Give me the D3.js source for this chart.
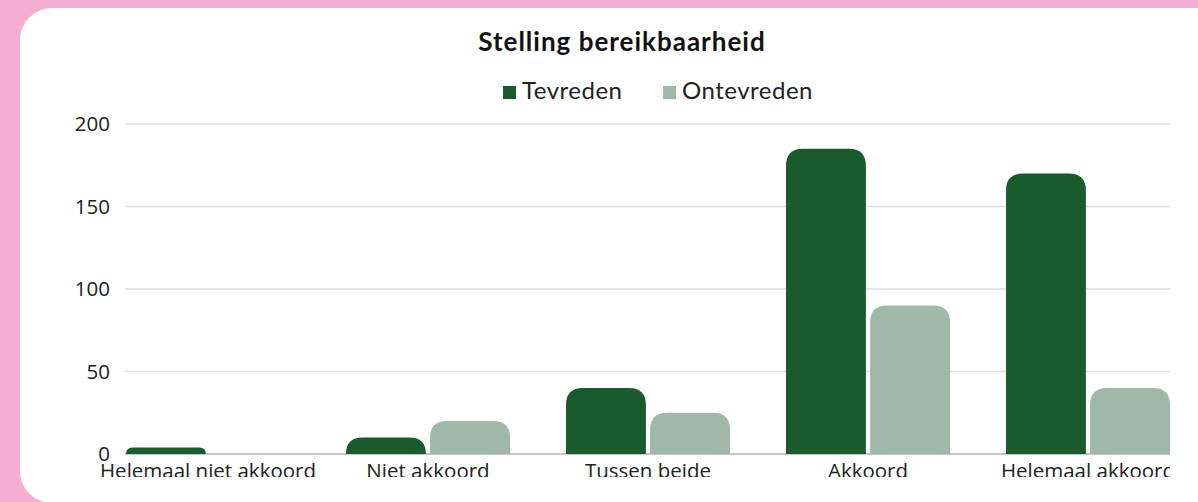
<!DOCTYPE html>
<html>
<head>
<meta charset="utf-8">
<script src="https://cdn.jsdelivr.net/npm/d3@7"></script>
<style>
  html, body { margin: 0; padding: 0; background: #f3aed0; }
  svg { display: block; }
</style>
</head>
<body>
<div id="chart"></div>
<script>
// categories and series values
var categories = ["Helemaal niet akkoord", "Niet akkoord", "Tussen beide", "Akkoord", "Helemaal akkoord"];
var seriesNames = ["Tevreden", "Ontevreden"];
var tevreden = [4, 10, 40, 185, 170];
var ontevreden = [0, 20, 25, 90, 40];
var yTicks = [0, 50, 100, 150, 200];

var color = d3.scaleOrdinal()
    .domain(seriesNames)
    .range(["#195b2d", "#9fb8a7"]);

var W = 1198, H = 502;

var svg = d3.select("#chart")
  .append("svg")
    .attr("width", W)
    .attr("height", H);

// white card on the pink background
svg.append("rect")
    .attr("x", 20).attr("y", 8)
    .attr("width", 1240).attr("height", 495)
    .attr("rx", 32).attr("ry", 32)
    .attr("fill", "#ffffff");

// title
svg.append("text")
    .attr("x", 622).attr("y", 51)
    .attr("text-anchor", "middle")
    .style("font-family", "Lato, sans-serif")
    .style("font-weight", "bold")
    .style("font-size", "26px")
    .style("letter-spacing", "1px")
    .attr("fill", "#111")
    .text("Stelling bereikbaarheid");

// legend
var legendX = [503, 663];
var legend = svg.append("g").selectAll("g")
  .data(seriesNames)
  .join("g")
    .attr("transform", (d, i) => `translate(${legendX[i]}, 86)`);
legend.append("rect")
    .attr("width", 13).attr("height", 13)
    .attr("fill", d => color(d));
legend.append("text")
    .attr("x", 19).attr("y", 13)
    .style("font-family", "Lato, sans-serif")
    .style("font-size", "24px")
    .style("letter-spacing", "0.5px")
    .attr("fill", "#222")
    .text(d => d);

// clip region for the plot
svg.append("defs").append("clipPath")
    .attr("id", "plotclip")
  .append("rect")
    .attr("x", 0).attr("y", 0)
    .attr("width", 1170).attr("height", 477);

var plot = svg.append("g").attr("clip-path", "url(#plotclip)");

var y = d3.scaleLinear()
    .domain([0, 200])
    .range([454, 124]);

var x = d3.scaleBand()
    .domain(categories)
    .range([126, 1170])
    .paddingInner(0.2545)
    .paddingOuter(0);

var xSub = d3.scaleBand()
    .domain(seriesNames)
    .range([0, x.bandwidth()])
    .paddingInner(0.05);

// gridlines
plot.append("g")
  .selectAll("line")
  .data(yTicks)
  .join("line")
    .attr("x1", 125).attr("x2", 1170)
    .attr("y1", d => y(d)).attr("y2", d => y(d))
    .attr("stroke", d => d === 0 ? "#b5b5b5" : "#dedede")
    .attr("stroke-width", 1.3);

// y labels
svg.append("g")
  .selectAll("text")
  .data(yTicks)
  .join("text")
    .attr("x", 110)
    .attr("y", d => y(d) + 7)
    .attr("text-anchor", "end")
    .style("font-family", "'Open Sans', sans-serif")
    .style("font-size", "20.5px")
    .attr("fill", "#222")
    .text(d => d);

function topRounded(x0, y0, w, h, r) {
  r = Math.min(r, w / 2, h);
  if (h <= 0) return "";
  return `M${x0},${y0 + h}V${y0 + r}Q${x0},${y0} ${x0 + r},${y0}H${x0 + w - r}Q${x0 + w},${y0} ${x0 + w},${y0 + r}V${y0 + h}Z`;
}

var rows = categories.map((c, i) => ({cat: c, values: [tevreden[i], ontevreden[i]]}));

plot.append("g")
  .selectAll("g")
  .data(rows)
  .join("g")
    .attr("transform", d => `translate(${x(d.cat)}, 0)`)
  .selectAll("path")
  .data(d => seriesNames.map((k, j) => ({key: k, value: d.values[j]})))
  .join("path")
    .attr("d", d => topRounded(xSub(d.key), y(d.value), xSub.bandwidth(), y(0) - y(d.value), 17))
    .attr("fill", d => color(d.key));

// x labels, kept from running off the left side of the plot
plot.append("g")
  .selectAll("text")
  .data(categories)
  .join("text")
    .attr("y", 478)
    .attr("text-anchor", "middle")
    .style("font-family", "'Open Sans', sans-serif")
    .style("font-size", "20.5px")
    .attr("fill", "#222")
    .text(d => d)
    .attr("x", function(d) {
      var half = this.getComputedTextLength() / 2;
      return Math.max(x(d) + x.bandwidth() / 2, 97 + half);
    });
</script>
</body>
</html>
